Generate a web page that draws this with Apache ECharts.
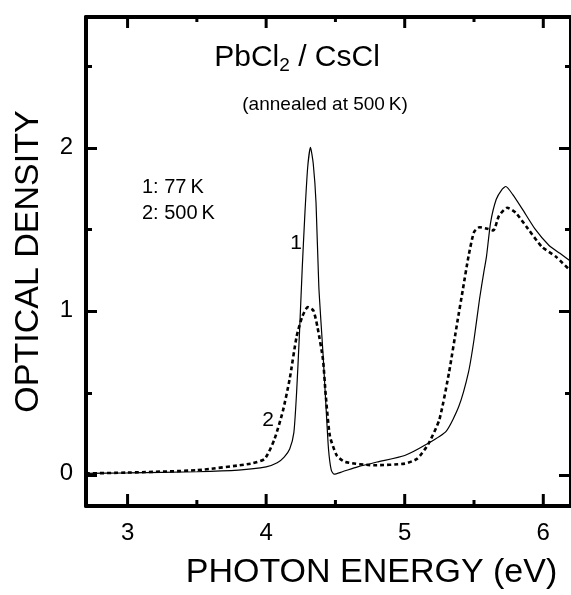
<!DOCTYPE html>
<html>
<head>
<meta charset="utf-8">
<script src="https://cdn.jsdelivr.net/npm/echarts@6/dist/echarts.min.js"></script>
<style>
  html, body { margin: 0; padding: 0; background: #fff; }
  #chart { width: 571px; height: 595px; }
</style>
</head>
<body>
<div id="chart"></div>
<script>
// curve 1: 77 K (solid)
const energy77 = [2.7, 3.0, 3.5, 3.8, 4.0, 4.08, 4.13, 4.17, 4.2, 4.22, 4.24, 4.26, 4.28, 4.3, 4.32, 4.34, 4.36, 4.38, 4.41, 4.43, 4.45, 4.47, 4.49, 4.55, 4.66, 4.8, 5.0, 5.16, 5.3, 5.39, 5.46, 5.5, 5.54, 5.57, 5.59, 5.62, 5.66, 5.7, 5.73, 5.78, 5.85, 5.94, 6.04, 6.12, 6.2];
const od77 = [0.0, 0.003, 0.01, 0.02, 0.04, 0.065, 0.1, 0.15, 0.25, 0.5, 0.85, 1.25, 1.6, 1.88, 2.0, 1.9, 1.66, 1.15, 0.74, 0.44, 0.15, 0.02, -0.005, 0.01, 0.04, 0.07, 0.11, 0.18, 0.26, 0.41, 0.62, 0.82, 1.07, 1.23, 1.33, 1.54, 1.68, 1.74, 1.76, 1.71, 1.62, 1.5, 1.4, 1.35, 1.3];

// curve 2: 500 K (dotted)
const energy500 = [2.7, 3.0, 3.5, 3.89, 3.99, 4.06, 4.12, 4.17, 4.22, 4.26, 4.3, 4.34, 4.37, 4.41, 4.43, 4.46, 4.51, 4.57, 4.78, 5.0, 5.09, 5.17, 5.25, 5.32, 5.38, 5.42, 5.46, 5.5, 5.54, 5.6, 5.64, 5.68, 5.74, 5.8, 5.89, 5.99, 6.09, 6.2];
const od500 = [0.0, 0.005, 0.02, 0.06, 0.09, 0.21, 0.38, 0.58, 0.84, 0.96, 1.02, 1.0, 0.9, 0.7, 0.48, 0.23, 0.11, 0.07, 0.05, 0.06, 0.09, 0.18, 0.33, 0.62, 0.93, 1.13, 1.33, 1.48, 1.51, 1.5, 1.49, 1.58, 1.63, 1.6, 1.5, 1.39, 1.33, 1.24];

// axis ranges and ticks
const xRange = [2.7, 6.2];
const yRange = [-0.2, 2.8];
const xMajor = [3, 4, 5, 6];
const xMinor = [3.5, 4.5, 5.5];
const yLabels = [0, 1, 2];

const FONT = '"Liberation Sans", Arial, Helvetica, sans-serif';

// plot box
const L = 86, T = 17, W = 490, H = 490.5;
const py = (y) => T + (yRange[1] - y) / (yRange[1] - yRange[0]) * H;

let chart = echarts.init(document.getElementById('chart'), null, { renderer: 'canvas' });

const pairs = (xs, ys) => xs.map((x, i) => [x, ys[i]]);

// frame axes (lines + labels)
function frameX(pos) {
    return {
        type: 'value', gridIndex: 0, position: pos, min: xRange[0], max: xRange[1],
        axisLine: { show: true, onZero: false, lineStyle: { color: '#000', width: 4 } },
        axisTick: { show: false },
        axisLabel: { show: pos === 'bottom', customValues: xMajor, fontSize: 24, color: '#000', fontFamily: FONT, margin: 15 },
        splitLine: { show: false }
    };
}
function frameY(pos) {
    return {
        type: 'value', gridIndex: 0, position: pos, min: yRange[0], max: yRange[1],
        axisLine: { show: true, onZero: false, lineStyle: { color: '#000', width: 4 } },
        axisTick: { show: false },
        axisLabel: { show: pos === 'left', customValues: yLabels, fontSize: 24, color: '#000', fontFamily: FONT, margin: 13 },
        splitLine: { show: false }
    };
}
// y tick-only axes, each in its own grid so that min is a multiple of interval
function tickAx(g, pos, min, max, step, len) {
    return {
        type: 'value', gridIndex: g, position: pos, min: min, max: max, interval: step,
        axisLine: { show: true, onZero: false, lineStyle: { color: '#000', width: 4 } },
        axisTick: { show: true, inside: true, length: len, lineStyle: { color: '#000', width: 3 } },
        axisLabel: { show: false },
        splitLine: { show: false }
    };
}
const hidden = (g) => ({
    type: 'value', gridIndex: g, min: 0, max: 1,
    axisLine: { show: false, onZero: false }, axisTick: { show: false },
    axisLabel: { show: false }, splitLine: { show: false }
});

let xAxes = [frameX('bottom'), frameX('top'), hidden(1), hidden(2)];
let yAxes = [
    frameY('left'), frameY('right'),
    tickAx(1, 'left', 0, 2, 1, 11), tickAx(1, 'right', 0, 2, 1, 12),
    tickAx(2, 'left', 0.5, 2.5, 0.5, 6), tickAx(2, 'right', 0.5, 2.5, 0.5, 6)
];

xAxes[0].name = 'PHOTON ENERGY (eV)';
xAxes[0].nameLocation = 'middle';
xAxes[0].nameGap = 50;
xAxes[0].nameTextStyle = { fontSize: 34, color: '#000', fontFamily: FONT, padding: [0, 0, 0, 86] };
yAxes[0].name = 'OPTICAL DENSITY';
yAxes[0].nameLocation = 'middle';
yAxes[0].nameGap = 40;
yAxes[0].nameTextStyle = { fontSize: 34, color: '#000', fontFamily: FONT };

// x ticks (bottom + top edges) drawn through the x scale: [value, length in px]
const xTickData = xMajor.map(v => [v, 12]).concat(xMinor.map(v => [v, 6]));

function renderXTick(params, api) {
    const v = api.value(0), len = api.value(1);
    const b = api.coord([v, yRange[0]]);
    const t = api.coord([v, yRange[1]]);
    const st = { stroke: '#000', lineWidth: 3 };
    return {
        type: 'group',
        children: [
            { type: 'line', shape: { x1: b[0], y1: b[1], x2: b[0], y2: b[1] - len }, style: st },
            { type: 'line', shape: { x1: t[0], y1: t[1], x2: t[0], y2: t[1] + len - 1 }, style: st }
        ]
    };
}

chart.setOption({
    animation: false,
    backgroundColor: '#fff',
    grid: [
        { left: L, top: T, width: W, height: H },
        { left: L, top: py(2), width: W, height: py(0) - py(2) },
        { left: L, top: py(2.5), width: W, height: py(0.5) - py(2.5) }
    ],
    xAxis: xAxes,
    yAxis: yAxes,
    series: [
        {
            name: '1: 77 K', type: 'line', xAxisIndex: 0, yAxisIndex: 0,
            data: pairs(energy77, od77), showSymbol: false, smooth: 0.2,
            lineStyle: { color: '#000', width: 1.2 }
        },
        {
            name: '2: 500 K', type: 'line', xAxisIndex: 0, yAxisIndex: 0,
            data: pairs(energy500, od500), showSymbol: false, smooth: 0.2,
            lineStyle: { color: '#000', width: 2.6, type: [4, 3] }
        },
        {
            name: 'xticks', type: 'custom', xAxisIndex: 0, yAxisIndex: 0,
            data: xTickData, renderItem: renderXTick, clip: false, silent: true, z: 10,
            encode: { x: 0 }
        }
    ],
    graphic: [
        {
            type: 'text', x: 297, y: 58,
            style: {
                text: '{n|PbCl}{s|2}{n| / CsCl}', align: 'center', verticalAlign: 'middle',
                rich: {
                    n: { fontSize: 30, fontFamily: FONT, fill: '#000', lineHeight: 34 },
                    s: { fontSize: 19, fontFamily: FONT, fill: '#000', lineHeight: 34, padding: [16, 0, 0, 0] }
                }
            }
        },
        { type: 'text', x: 325, y: 105, style: { text: '(annealed at 500\u2009K)', align: 'center', verticalAlign: 'middle', font: '19px ' + FONT, fill: '#000' } },
        { type: 'text', x: 142, y: 187, style: { text: '1: 77\u2009K', align: 'left', verticalAlign: 'middle', font: '20px ' + FONT, fill: '#000' } },
        { type: 'text', x: 142, y: 213, style: { text: '2: 500\u2009K', align: 'left', verticalAlign: 'middle', font: '20px ' + FONT, fill: '#000' } },
        { type: 'text', x: 296, y: 243, style: { text: '1', align: 'center', verticalAlign: 'middle', font: '21px ' + FONT, fill: '#000' } },
        { type: 'text', x: 268, y: 420, style: { text: '2', align: 'center', verticalAlign: 'middle', font: '21px ' + FONT, fill: '#000' } }
    ]
});
</script>
</body>
</html>
